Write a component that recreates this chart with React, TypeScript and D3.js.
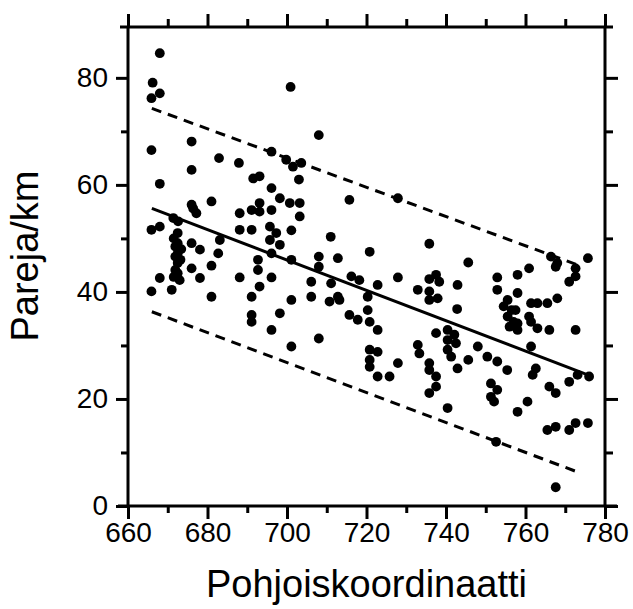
import React, { useEffect, useRef } from 'react';
import * as d3 from 'd3';

const WIDTH = 633;
const HEIGHT = 609;

const xMajorTicks = [660, 680, 700, 720, 740, 760, 780];
const xMinorTicks = [670, 690, 710, 730, 750, 770];
const yMajorTicks = [0, 20, 40, 60, 80];
const yMinorTicks = [10, 30, 50, 70];

const xTitle = 'Pohjoiskoordinaatti';
const yTitle = 'Pareja/km';

// [pohjoiskoordinaatti, pareja/km]
const points: [number, number][] = [
  [668.0, 84.6], [666.2, 79.1], [668.0, 77.1], [665.9, 76.2], [700.9, 78.3], [708.0, 69.3],
  [665.9, 66.5], [676.0, 68.1], [682.9, 65.0], [687.9, 64.1], [676.0, 62.8], [668.0, 60.2],
  [691.5, 61.2], [693.1, 61.6], [696.1, 66.2], [699.8, 64.7], [701.5, 63.4], [703.6, 64.1],
  [703.0, 61.0], [696.1, 59.4], [698.2, 57.5], [700.7, 56.6], [703.2, 56.6], [703.2, 54.1],
  [715.7, 57.2], [681.0, 56.9], [676.0, 56.3], [677.2, 54.7], [676.4, 55.6], [688.1, 54.7],
  [691.1, 55.3], [693.1, 56.6], [693.1, 55.0], [696.1, 55.3], [665.9, 51.6], [668.0, 52.2],
  [671.4, 53.8], [672.6, 53.2],
  [672.5, 51.0], [672.5, 49.1], [671.9, 48.5], [672.5, 47.2], [671.9, 46.6], [672.5, 45.4],
  [671.9, 44.1], [672.5, 43.5], [671.5, 50.0], [673.2, 46.0], [671.5, 42.8], [673.4, 48.0],
  [676.0, 49.1], [678.1, 47.9], [676.0, 44.4], [681.0, 44.9], [683.1, 49.7], [682.7, 47.2],
  [668.0, 42.6], [673.0, 42.2], [678.1, 42.6], [688.1, 51.6], [691.1, 51.6], [688.1, 42.7],
  [692.7, 46.0], [692.7, 44.1], [695.7, 52.2], [697.3, 51.0], [695.7, 49.7], [698.2, 48.8],
  [696.1, 47.2], [701.1, 51.5], [701.1, 46.0], [696.1, 42.7], [711.0, 50.3], [708.0, 46.6],
  [708.0, 44.7], [712.8, 46.3], [706.1, 41.9], [711.1, 41.6], [716.2, 42.9], [718.2, 42.2],
  [720.8, 47.5],
  [665.9, 40.1], [671.0, 40.4], [681.0, 39.1], [693.1, 41.0], [691.1, 39.1], [691.1, 35.7],
  [691.1, 34.4], [698.2, 36.0], [696.1, 32.9], [701.1, 38.5], [701.1, 29.8], [708.0, 31.3],
  [706.1, 39.1], [712.8, 39.1], [710.7, 38.2], [713.2, 38.5], [715.7, 35.7], [717.8, 34.8],
  [720.3, 39.1], [720.3, 36.6],
  [727.9, 57.5], [735.8, 49.0], [745.6, 45.5], [727.9, 42.7], [722.8, 41.3], [735.8, 42.4],
  [737.5, 43.2], [738.3, 41.9], [742.9, 41.3], [752.9, 42.7], [758.0, 43.2], [760.9, 44.4],
  [766.4, 46.6], [768.0, 45.4], [767.6, 44.7], [775.7, 46.3], [772.6, 44.4], [772.6, 42.9],
  [771.0, 41.9],
  [732.9, 40.4], [735.8, 40.1], [735.8, 38.5], [737.9, 38.8], [742.8, 36.8], [752.9, 40.4],
  [758.0, 39.8], [755.5, 38.5], [754.5, 37.3], [756.5, 36.6], [757.5, 36.6], [755.5, 35.4],
  [757.0, 34.4], [758.0, 34.1], [756.0, 33.5], [758.0, 32.9],
  [761.4, 37.9], [763.0, 37.9], [765.5, 37.9], [768.0, 38.8], [760.9, 35.4], [761.4, 34.4],
  [763.0, 33.2], [766.0, 32.9], [772.6, 32.9], [720.8, 34.4], [722.8, 32.9], [732.9, 30.1],
  [733.3, 28.5], [727.9, 26.7], [720.8, 29.2], [722.8, 28.8], [720.8, 27.3], [720.8, 26.0],
  [722.8, 24.2], [725.8, 24.2], [735.8, 26.7], [735.8, 25.4], [737.5, 24.2], [737.5, 22.3],
  [735.8, 21.1], [740.4, 32.9], [742.1, 32.0], [740.4, 31.0], [742.5, 30.4], [740.4, 29.2],
  [741.3, 27.9], [742.9, 25.7], [737.5, 32.3], [745.6, 27.3], [748.0, 29.8], [750.4, 27.9],
  [752.9, 27.0], [755.4, 25.4], [751.3, 22.9], [752.9, 21.7], [751.3, 20.4], [752.1, 19.5],
  [761.4, 29.8], [762.6, 25.7], [761.8, 24.5], [766.0, 22.3], [767.6, 21.1], [771.0, 23.2],
  [773.1, 24.5], [776.0, 24.2], [760.5, 19.5], [758.0, 17.6], [765.5, 14.2], [767.6, 14.8],
  [771.0, 14.2], [772.6, 15.5], [775.7, 15.5], [767.6, 3.5], [740.4, 18.3], [752.6, 12.0],
];

// regression line and prediction limits
const fitLine: [number, number][] = [[666, 55.6], [776, 24.4]];
const upperBand: [number, number][] = [[666, 74.3], [774, 44.8]];
const lowerBand: [number, number][] = [[666, 36.3], [774, 6.1]];

const FONT = '"Liberation Sans", Arial, sans-serif';

const App = () => {
  const svgRef = useRef<SVGSVGElement>(null);

  useEffect(() => {
    const svg = d3.select(svgRef.current);
    svg.selectAll('*').remove();

    const left = 128;
    const right = 605;
    const top = 27;
    const bottom = 506;

    const x = d3.scaleLinear().domain([660, 780]).range([left, right]);
    const y = d3.scaleLinear().domain([0, 89.5]).range([bottom, top]);

    const styleAxis = (g) => {
      g.select('.domain').remove();
      g.selectAll('line').attr('stroke', '#000').attr('stroke-width', 3);
      g.selectAll('text')
        .attr('fill', '#000')
        .style('font-family', FONT)
        .style('font-size', '28px');
    };

    // bottom axis
    svg.append('g')
      .attr('transform', `translate(0,${bottom})`)
      .call(d3.axisBottom(x).tickValues(xMajorTicks).tickSize(13).tickPadding(3).tickFormat(d3.format('d')))
      .call(styleAxis);
    svg.append('g')
      .attr('transform', `translate(0,${bottom})`)
      .call(d3.axisBottom(x).tickValues(xMinorTicks).tickSize(7).tickFormat(() => ''))
      .call(styleAxis);

    // top axis
    svg.append('g')
      .attr('transform', `translate(0,${top})`)
      .call(d3.axisTop(x).tickValues(xMajorTicks).tickSize(13).tickFormat(() => ''))
      .call(styleAxis);
    svg.append('g')
      .attr('transform', `translate(0,${top})`)
      .call(d3.axisTop(x).tickValues(xMinorTicks).tickSize(8).tickFormat(() => ''))
      .call(styleAxis);

    // left axis
    svg.append('g')
      .attr('transform', `translate(${left},0)`)
      .call(d3.axisLeft(y).tickValues(yMajorTicks).tickSize(12).tickPadding(8).tickFormat(d3.format('d')))
      .call(styleAxis);
    svg.append('g')
      .attr('transform', `translate(${left},0)`)
      .call(d3.axisLeft(y).tickValues(yMinorTicks).tickSize(7).tickFormat(() => ''))
      .call(styleAxis);

    // right axis
    svg.append('g')
      .attr('transform', `translate(${right},0)`)
      .call(d3.axisRight(y).tickValues(yMajorTicks).tickSize(13).tickFormat(() => ''))
      .call(styleAxis);
    svg.append('g')
      .attr('transform', `translate(${right},0)`)
      .call(d3.axisRight(y).tickValues(yMinorTicks).tickSize(8).tickFormat(() => ''))
      .call(styleAxis);

    // frame
    const frame = svg.append('g').attr('stroke', '#000').attr('stroke-width', 3);
    frame.append('line').attr('x1', left - 10).attr('x2', right + 12).attr('y1', bottom).attr('y2', bottom);
    frame.append('line').attr('x1', left - 8).attr('x2', right + 8).attr('y1', top).attr('y2', top);
    frame.append('line').attr('x1', left).attr('x2', left).attr('y1', top).attr('y2', bottom);
    frame.append('line').attr('x1', right).attr('x2', right).attr('y1', top).attr('y2', bottom);

    const line = d3.line<[number, number]>()
      .x((d) => x(d[0]))
      .y((d) => y(d[1]));

    // prediction limits
    [upperBand, lowerBand].forEach((band) => {
      svg.append('path')
        .datum(band)
        .attr('fill', 'none')
        .attr('stroke', '#000')
        .attr('stroke-width', 3)
        .attr('stroke-dasharray', '10,7')
        .attr('d', line);
    });

    // fit
    svg.append('path')
      .datum(fitLine)
      .attr('fill', 'none')
      .attr('stroke', '#000')
      .attr('stroke-width', 3)
      .attr('d', line);

    // points
    svg.append('g')
      .selectAll('circle')
      .data(points)
      .enter()
      .append('circle')
      .attr('cx', (d) => x(d[0]))
      .attr('cy', (d) => y(d[1]))
      .attr('r', 4.9)
      .attr('fill', '#000');

    // axis titles
    svg.append('text')
      .attr('x', (left + right) / 2)
      .attr('y', 597)
      .attr('text-anchor', 'middle')
      .style('font-family', FONT)
      .style('font-size', '38px')
      .text(xTitle);

    svg.append('text')
      .attr('transform', `translate(38,256) rotate(-90)`)
      .attr('text-anchor', 'middle')
      .style('font-family', FONT)
      .style('font-size', '38px')
      .text(yTitle);
  }, []);

  return (
    <div style={{ position: 'absolute', left: 0, top: 0 }}>
      <svg ref={svgRef} width={WIDTH} height={HEIGHT} style={{ display: 'block', background: '#fff' }} />
    </div>
  );
};

export default App;
